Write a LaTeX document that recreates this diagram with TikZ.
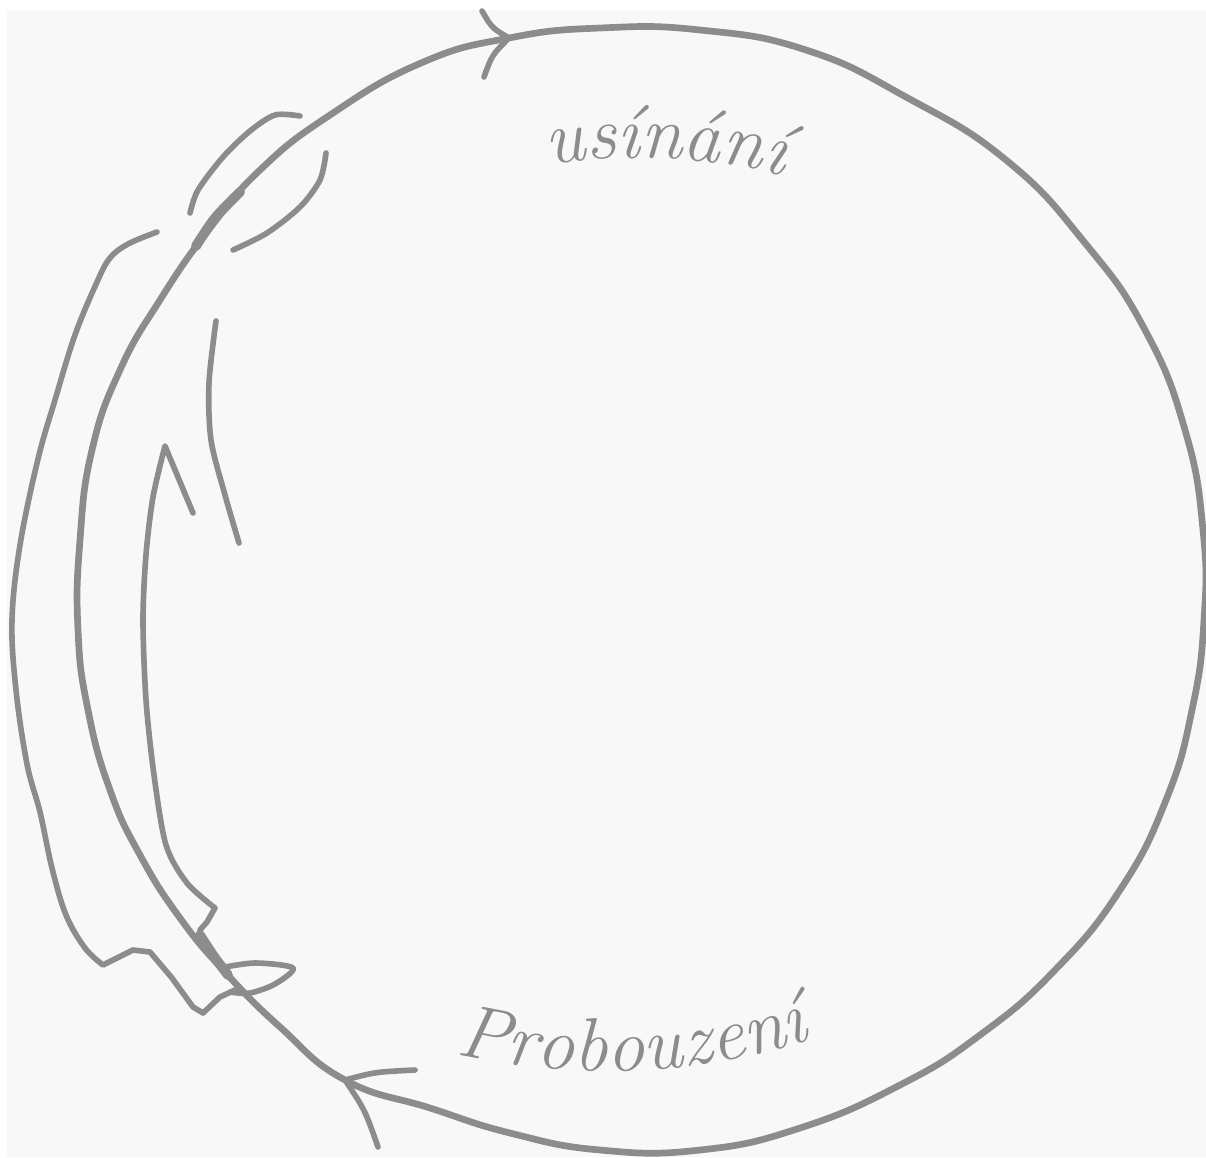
\documentclass[tikz,border=0pt]{standalone}
\usetikzlibrary{decorations.text}
\definecolor{inkgray}{RGB}{140,140,140}
\definecolor{textgray}{RGB}{140,140,140}
\definecolor{paper}{RGB}{248,248,248}

\begin{document}
\begin{tikzpicture}[x=0.01cm,y=-0.01cm,
  stroke/.style={draw=inkgray,line width=1.6pt,line cap=round,line join=round},
  ring/.style={stroke,line width=1.9pt},
  arclabel/.style={decorate,decoration={text along path,text align=center,text format delimiters={|}{|}}}]
\useasboundingbox (0,0) rectangle (1206,1157);
\fill[white] (0,0) rectangle (1206,1157);
\fill[paper] (7,10) rectangle (1206,1157);

% the sleep cycle
\draw[ring] plot[smooth cycle,tension=0.8] coordinates {(345,1080) (280,1027) (225,972) (180,918) (140,855)
  (110,790) (88,710) (78,630) (80,540) (92,450) (120,370) (160,300) (207,232) (260,170) (330,115)
  (421,63) (509,38) (600,28) (700,30) (806,50) (906,97) (1006,160) (1085,243) (1145,330) (1185,430)
  (1203,530) (1204,620) (1192,710) (1166,800) (1120,890) (1055,970) (980,1035) (900,1085) (800,1128)
  (700,1150) (600,1150) (510,1133) (430,1108)};
\draw[ring,line width=2.8pt] plot[smooth] coordinates {(196,246) (215,218) (240,192)};
\draw[ring,line width=2.8pt] plot[smooth] coordinates {(200,935) (213,955) (228,975)};

% arrow heads
\coordinate (topTip) at (509,38);
\coordinate (botTip) at (345,1080);
\draw[stroke] (482,11) .. controls (492,28) .. (topTip) .. controls (492,55) .. (484,77);
\draw[stroke] (415,1070) .. controls (375,1072) .. (botTip) .. controls (365,1110) .. (378,1147);

% outer stroke
\draw[stroke] plot[smooth,tension=0.6] coordinates {(157,232) (128,244) (110,258) (97,282) (75,335)
  (55,400) (38,459) (20,545) (12,620) (16,690) (27,764) (40,812) (52,868) (66,915) (85,948) (103,965)}
  -- (133,950) -- (150,952) -- (172,978) -- (193,1007) -- (203,1013) -- (220,997) -- (235,990);

% inner strokes
\draw[stroke] (193,513) -- plot[smooth] coordinates {(165,446) (153,497) (146,555) (143,620) (146,700)
  (154,775) (166,845) (187,883) (215,908)} -- (207,922) -- (200,930);
\draw[stroke] plot[smooth] coordinates {(216,321) (209,383) (211,440) (225,495) (239,543)};

% brackets
\draw[stroke] plot[smooth] coordinates {(190,213) (198,190) (223,157) (250,131) (275,115) (300,116)};
\draw[stroke] plot[smooth] coordinates {(326,153) (320,180) (300,207) (267,233) (233,250)};
\draw[stroke] plot[smooth] coordinates {(220,968) (255,963) (293,968) (275,984) (250,993) (230,992)};

% labels
\path[arclabel,decoration={text={|\fontsize{21.5}{26}\selectfont\itshape\color{textgray}|usínání}}]
  (530,168) .. controls (600,154) and (710,152) .. (800,181);
\path[arclabel,decoration={text={|\fontsize{21.5}{26}\selectfont\itshape\color{textgray}|Probouzení}}]
  (440,1050) .. controls (550,1080) and (700,1080) .. (825,1035);
\end{tikzpicture}
\end{document}
